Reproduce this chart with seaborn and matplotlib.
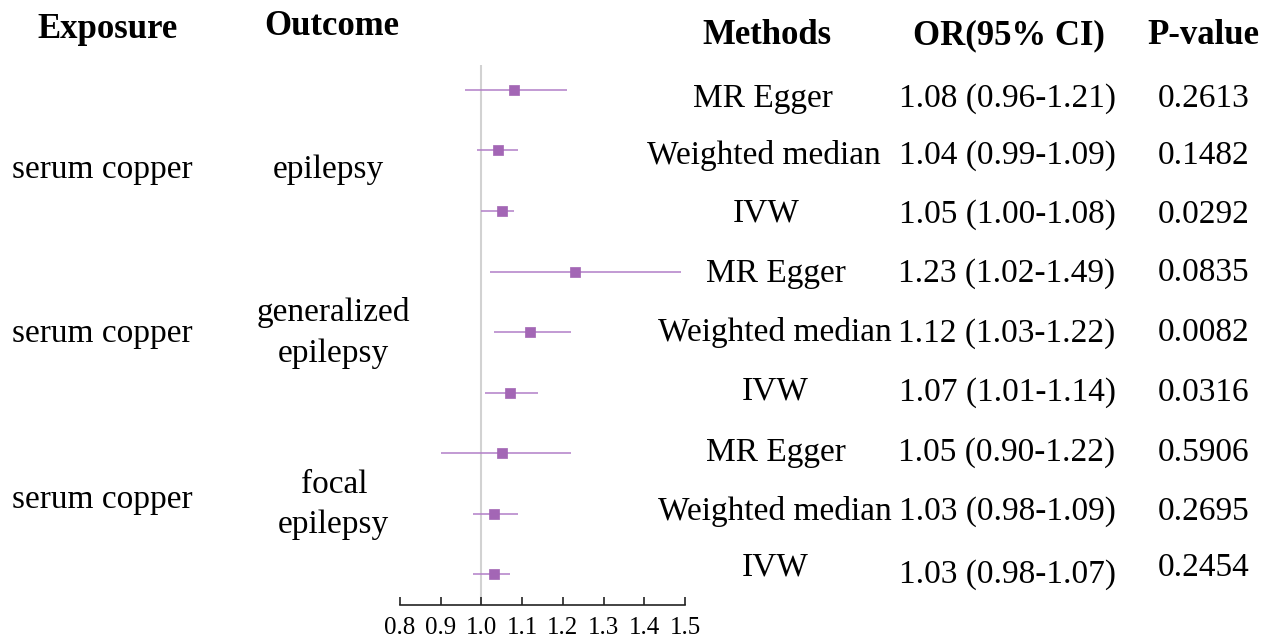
import matplotlib.pyplot as plt
import seaborn as sns
import pandas as pd

# data
exposures = ["serum copper", "serum copper", "serum copper"]
outcomes = ["epilepsy", "generalized\nepilepsy", "focal\nepilepsy"]
methods = ["MR Egger", "Weighted median", "IVW"] * 3
odds = [1.08, 1.04, 1.05, 1.23, 1.12, 1.07, 1.05, 1.03, 1.03]
lower = [0.96, 0.99, 1.00, 1.02, 1.03, 1.01, 0.90, 0.98, 0.98]
upper = [1.21, 1.09, 1.08, 1.49, 1.22, 1.14, 1.22, 1.09, 1.07]
pvalues = ["0.2613", "0.1482", "0.0292", "0.0835", "0.0082",
           "0.0316", "0.5906", "0.2695", "0.2454"]
xticks = [0.8, 0.9, 1.0, 1.1, 1.2, 1.3, 1.4, 1.5]

df = pd.DataFrame({"row": range(len(odds)), "OR": odds,
                   "lo": lower, "hi": upper})

W, H = 1261, 638
sns.set_theme(style="white")
plt.rcParams["font.family"] = ["Liberation Serif", "DejaVu Serif"]

fig = plt.figure(figsize=(W / 100, H / 100), dpi=100)
ax = fig.add_axes([400 / W, 1 - 605 / H, 285 / W, 540 / H])

purple = "#a366b5"
line_purple = "#b27ec8"

ax.axvline(1.0, color="#d2d2d2", lw=1.5, zorder=0)
ax.hlines(df["row"], df["lo"], df["hi"], color=line_purple, lw=1.1, zorder=1)
sns.scatterplot(data=df, x="OR", y="row", marker="s", s=55, color=purple,
                edgecolor=purple, linewidth=0.5, ax=ax, zorder=2, legend=False)

ax.set_xlim(0.8, 1.5)
ax.set_ylim(8.512, -0.413)
ax.set_xticks(xticks)
ax.set_xticklabels([f"{t:.1f}" for t in xticks], fontsize=18, color="black")
ax.set_yticks([])
ax.set_xlabel("")
ax.set_ylabel("")
for side in ["top", "right", "left"]:
    ax.spines[side].set_visible(False)
ax.spines["bottom"].set_color("#222222")
ax.spines["bottom"].set_linewidth(1.2)
ax.tick_params(axis="x", direction="in", length=6, width=1.2,
               color="#222222", pad=9, bottom=True)
ax.patch.set_alpha(0)


def put(x, y, s, size=24, **kw):
    fig.text(x / W, 1 - y / H, s, ha="center", va="baseline",
             fontsize=size, color="black", **kw)


# headers
put(108, 38, "Exposure", size=25, fontweight="bold")
put(332, 35, "Outcome", size=25, fontweight="bold")
put(767, 44, "Methods", size=25, fontweight="bold")
put(1009, 44, "OR(95% CI)", size=25, fontweight="bold")
put(1203, 44, "P-value", size=25, fontweight="bold")

# exposure / outcome columns
exp_y = [178, 342, 508]
for s, y in zip(exposures, exp_y):
    put(102, y, s)
put(328, 178, "epilepsy")
put(333, 321, "generalized")
put(333, 362, "epilepsy")
put(334, 493, "focal")
put(333, 533, "epilepsy")

# per-row columns
meth_x = [763, 764, 766, 776, 775, 775, 776, 775, 775]
meth_y = [107, 164, 222, 282, 341, 400, 461, 520, 576]
or_y = [107, 164, 223, 282, 342, 401, 461, 520, 583]
p_y = [107, 164, 223, 281, 341, 401, 461, 520, 576]
for i in range(len(odds)):
    put(meth_x[i], meth_y[i], methods[i])
    put(1007, or_y[i], f"{odds[i]:.2f} ({lower[i]:.2f}-{upper[i]:.2f})")
    put(1204, p_y[i], pvalues[i])

fig.savefig("out.png", dpi=100)
